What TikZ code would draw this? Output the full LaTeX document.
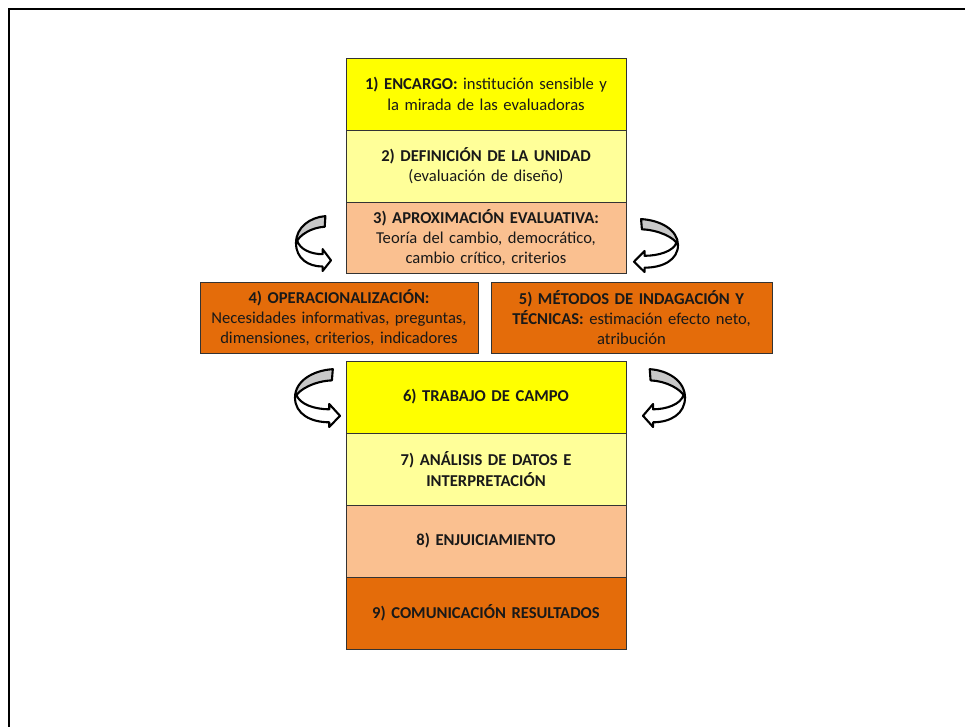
\documentclass[tikz,border=0pt]{standalone}
\usepackage{fontspec}
\setmainfont{Carlito}
\definecolor{cyellow}{HTML}{FFFF00}
\definecolor{clight}{HTML}{FFFF99}
\definecolor{cpeach}{HTML}{FAC090}
\definecolor{corange}{HTML}{E46C0A}
\definecolor{cgrey}{HTML}{C8C8C8}
\tikzset{
  stepbox/.style={rectangle, draw=black!80, line width=0.8pt, minimum width=280pt,
    minimum height=72pt, inner sep=0pt, align=center, text width=276pt,
    font=\fontsize{16.6}{20.3}\selectfont, text=black!90},
  carrow/.pic={
    \filldraw[fill=cgrey, draw=black, line width=2.1pt, line join=round]
      (0.84,0.02) .. controls (0.4,0.04) and (0,0.22) .. (0,0.5)
      .. controls (0.08,0.36) and (0.45,0.22) .. (0.82,0.21) -- cycle;
    \filldraw[fill=white, draw=black, line width=2.1pt, line join=round]
      (0.03,0.45) .. controls (0.1,0.62) and (0.45,0.70) .. (0.76,0.70)
      -- (0.76,0.61) -- (1,0.81) -- (0.76,1) -- (0.76,0.92)
      .. controls (0.35,0.92) and (0,0.78) .. (0,0.5) -- cycle;
  }
}
\begin{document}
\begin{tikzpicture}[x=1pt, y=-1pt]
\path[use as bounding box, fill=white] (0,0) rectangle (965,727);
\draw[line width=2.5pt] (9,727) -- (9,9) -- (965,9);

\node[stepbox, fill=cyellow] (b1) at (486,94)
  {\textbf{1) ENCARGO:} institución sensible y\\la mirada de las evaluadoras};
\node[stepbox, fill=clight] (b2) at (486,166)
  {\textbf{2) DEFINICIÓN DE LA UNIDAD}\\(evaluación de diseño)};
\node[stepbox, fill=cpeach, minimum height=71pt] (b3) at (486,237.5)
  {\textbf{3) APROXIMACIÓN EVALUATIVA:}\\Teoría del cambio, democrático,\\cambio crítico, criterios};
\node[stepbox, fill=corange, minimum width=278pt, minimum height=71pt] (b4) at (339,317.5)
  {\textbf{4) OPERACIONALIZACIÓN:}\\Necesidades informativas, preguntas,\\dimensiones, criterios, indicadores};
\node[stepbox, fill=corange, minimum width=281pt, minimum height=71pt] (b5) at (631.5,317.5)
  {\textbf{5) MÉTODOS DE INDAGACIÓN Y}\\\textbf{TÉCNICAS:} estimación efecto neto,\\atribución};
\node[stepbox, fill=cyellow] (b6) at (486,397)
  {\textbf{6) TRABAJO DE CAMPO}};
\node[stepbox, fill=clight] (b7) at (486,469)
  {\textbf{7) ANÁLISIS DE DATOS E}\\\textbf{INTERPRETACIÓN}};
\node[stepbox, fill=cpeach] (b8) at (486,541)
  {\textbf{8) ENJUICIAMIENTO}};
\node[stepbox, fill=corange] (b9) at (486,613)
  {\textbf{9) COMUNICACIÓN RESULTADOS}};

\pic[xscale=35, yscale=56] at (296,215) {carrow};
\pic[xscale=-44, yscale=54] at (678,218) {carrow};
\pic[xscale=45, yscale=59] at (295,368) {carrow};
\pic[xscale=-42, yscale=59] at (685,368) {carrow};
\end{tikzpicture}
\end{document}
